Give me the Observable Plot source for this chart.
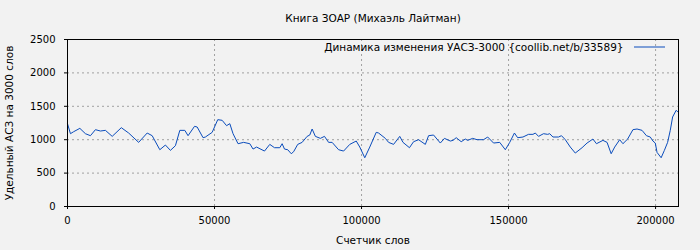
<!DOCTYPE html>
<html><head><meta charset="utf-8">
<script src="https://cdn.jsdelivr.net/npm/d3@7"></script>
<script src="https://cdn.jsdelivr.net/npm/@observablehq/plot@0.6"></script>
<style>html,body{margin:0;padding:0;background:#f2f2f2}</style>
</head><body><div id="chart"></div>
<script>
const title = "Книга ЗОАР (Михаэль Лайтман)";
const seriesLabel = "Динамика изменения УАСЗ-3000 {coollib.net/b/33589}";
const xLabel = "Счетчик слов";
const yLabel = "Удельный АСЗ на 3000 слов";
const xTicks = [0, 50000, 100000, 150000, 200000];
const yTicks = [0, 500, 1000, 1500, 2000, 2500];
const words = [0,1000,2100,4200,6100,7800,9500,11200,12900,15200,
18300,20800,24200,27100,28800,31400,33300,35000,36700,38200,
39900,41000,43200,44100,46100,46900,49200,51100,52600,54100,
55200,56300,58000,59900,62000,63100,64300,67000,68800,70400,
72200,73000,73800,74900,76100,76900,78300,79800,81500,82400,
83200,84300,86000,87400,88800,90000,92200,93900,96000,98200,
99400,101100,102800,105000,105800,108100,109200,110900,113000,114100,
116300,117700,119400,121700,122800,124500,126800,128200,130200,131100,
132200,133900,135300,136100,137800,139300,141500,142900,144900,147000,
148900,150400,152000,153100,154900,156800,158300,159100,160200,161900,
163300,164000,165100,167000,168000,169300,171000,172700,175000,176700,
178700,179900,182100,183500,184900,186100,187800,188900,190500,192300,
193700,195400,196900,198200,199100,199900,200500,201900,203000,204100,
205000,205800,207000,207500];
const values = [1240,1090,1120,1170,1090,1060,1150,1130,1140,1050,
1180,1100,960,1100,1060,850,920,840,910,1140,
1140,1060,1200,1190,1030,1040,1110,1300,1290,1210,
1240,1090,940,960,940,860,890,830,930,880,
880,940,860,850,790,820,930,960,1050,1070,
1160,1050,1020,1050,960,960,850,830,930,980,
890,730,890,1110,1100,1020,960,930,1050,960,
880,970,1000,930,1060,1070,950,1020,980,990,
1030,970,1010,990,1020,1000,1000,1040,950,960,
850,960,1100,1030,1040,1080,1080,1100,1050,1090,
1080,1090,1040,1040,1060,1000,890,800,880,950,
1010,940,990,960,790,890,1000,940,1010,1150,
1160,1140,1060,1040,980,950,810,730,840,960,
1140,1340,1440,1420];
const xMax = 207800;
const lineColor = "#0a4cbc";

const data = words.map((w, i) => ({w, v: values[i]}));
const gridStyle = {stroke: "#a0a0a0", strokeOpacity: 1, strokeDasharray: "2,3"};

const chart = Plot.plot({
  width: 700, height: 250,
  marginLeft: 67, marginRight: 22, marginTop: 39, marginBottom: 44,
  style: {background: "#f2f2f2", fontFamily: "DejaVu Sans", fontSize: "10px", color: "black"},
  x: {domain: [0, xMax]},
  y: {domain: [0, 2500]},
  marks: [
    Plot.gridX(xTicks.slice(1), gridStyle),
    Plot.gridY(yTicks.slice(1, -1), gridStyle),
    Plot.line(data, {x: "w", y: "v", stroke: lineColor, strokeWidth: 1}),
    Plot.frame({stroke: "black", strokeWidth: 1}),
    Plot.axisX(xTicks, {tickSize: 3, tickPadding: 7, tickFormat: d => String(d), label: null, fontSize: 10}),
    Plot.axisY(yTicks, {tickSize: 3, tickPadding: 9, tickFormat: d => String(d), label: null, fontSize: 10}),
    Plot.text([title], {frameAnchor: "top", dy: -21, lineAnchor: "middle", fontSize: 10.5}),
    Plot.text([xLabel], {frameAnchor: "bottom", dy: 34, lineAnchor: "middle", fontSize: 10.5}),
    Plot.text([yLabel], {frameAnchor: "left", dx: -58, rotate: -90, textAnchor: "middle", lineAnchor: "middle", fontSize: 10.5}),
    Plot.text([seriesLabel], {frameAnchor: "top-right", dx: -55, dy: 8, textAnchor: "end", lineAnchor: "middle", fontSize: 10.5})
  ]
});
document.getElementById("chart").appendChild(chart);
// legend swatch
const frameRight = 700 - 22, frameTop = 39;
d3.select(chart).append("line")
  .attr("x1", frameRight - 44).attr("x2", frameRight - 13)
  .attr("y1", frameTop + 8).attr("y2", frameTop + 8)
  .attr("stroke", lineColor).attr("stroke-width", 1);
</script>
</body></html>
